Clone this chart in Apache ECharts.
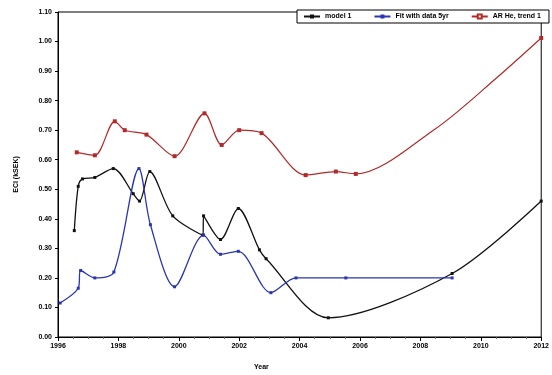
<!DOCTYPE html>
<html>
<head>
<meta charset="utf-8">
<script src="https://cdn.jsdelivr.net/npm/echarts@6/dist/echarts.min.js"></script>
<style>
  html, body { margin: 0; padding: 0; background: #fff; }
  #chart { width: 552px; height: 375px; }
</style>
</head>
<body>
<div id="chart"></div>
<script>
// [year, value] pairs
var seriesNames = ['model 1', 'Fit with data 5yr', 'AR He, trend 1']
var blackData = [
  [1996.54, 0.36], [1996.67, 0.51], [1996.81, 0.535], [1997.22, 0.54],
  [1997.83, 0.57], [1998.49, 0.485], [1998.7, 0.46], [1999.04, 0.56],
  [1999.8, 0.41], [2000.8, 0.345], [2000.82, 0.41], [2001.38, 0.33],
  [2001.97, 0.435], [2002.67, 0.295], [2002.89, 0.265], [2004.95, 0.065],
  [2009.05, 0.215], [2012, 0.46],
]
var blueData = [
  [1996.07, 0.115], [1996.67, 0.165], [1996.75, 0.225], [1997.22, 0.2],
  [1997.85, 0.22], [1998.68, 0.57], [1999.06, 0.38], [1999.86, 0.17],
  [2000.82, 0.345], [2001.38, 0.28], [2001.97, 0.29], [2003.05, 0.15],
  [2003.88, 0.2], [2005.53, 0.2], [2009.05, 0.2],
]
var redData = [
  [1996.62, 0.625], [1997.22, 0.615], [1997.88, 0.73], [1998.21, 0.7],
  [1998.93, 0.685], [1999.86, 0.612], [2000.85, 0.757], [2001.42, 0.65],
  [2002.0, 0.7], [2002.74, 0.69], [2004.2, 0.548], [2005.2, 0.56],
  [2005.86, 0.552], [2008.5, 0.705], [2010.5, 0.875], [2012, 1.012],
]
// points on the red curve that carry no marker in the picture
var redUnmarked = [2008.5, 2010.5]
var yearTicks = [1996, 2012, 2]
var valueTicks = [0, 1.1, 0.1]

var chart = echarts.init(document.getElementById('chart'))

var font = 'Liberation Sans, Arial, sans-serif'

chart.setOption({
  animation: false,
  textStyle: { fontFamily: font },
  grid: {
    left: 58,
    right: 9,
    top: 12,
    bottom: 38,
    show: true,
    borderColor: '#000',
    borderWidth: 1,
  },
  legend: {
    data: seriesNames,
    left: 297,
    top: 10,
    width: 252,
    backgroundColor: '#fff',
    borderColor: '#000',
    borderWidth: 1,
    padding: [3, 8, 3, 6],
    itemWidth: 16,
    itemHeight: 5,
    itemGap: 22,
    textStyle: { fontSize: 7, color: '#000', fontWeight: 'bold' },
  },
  xAxis: {
    type: 'value',
    min: yearTicks[0],
    max: yearTicks[1],
    interval: yearTicks[2],
    axisLine: { lineStyle: { color: '#000', width: 1 } },
    axisTick: { show: true, length: 4, lineStyle: { color: '#000' } },
    minorTick: { show: true, splitNumber: 4, length: 2, lineStyle: { color: '#666' } },
    splitLine: { show: false },
    axisLabel: {
      fontSize: 7,
      fontWeight: 'bold',
      color: '#000',
      margin: 6,
      formatter: function (v) { return String(v) },
    },
  },
  yAxis: {
    type: 'value',
    min: valueTicks[0],
    max: valueTicks[1],
    interval: valueTicks[2],
    name: 'ECI (kSEK)',
    nameLocation: 'middle',
    nameGap: 38,
    nameTextStyle: { fontSize: 7, fontWeight: 'bold', color: '#000' },
    axisLine: { show: true, lineStyle: { color: '#000', width: 1 } },
    axisTick: { show: true, length: 3, lineStyle: { color: '#000' } },
    splitLine: { show: false },
    axisLabel: {
      fontSize: 7,
      fontWeight: 'bold',
      color: '#000',
      margin: 6,
      formatter: function (v) { return v.toFixed(2) },
    },
  },
  graphic: [
    {
      type: 'text',
      left: 254,
      top: 364,
      style: { text: 'Year', fontSize: 7, fontWeight: 'bold', fill: '#000', fontFamily: font },
    },
  ],
  series: [
    {
      name: seriesNames[0],
      type: 'line',
      data: blackData,
      smooth: 0.3,
      symbol: 'rect',
      symbolSize: 3,
      lineStyle: { color: '#111', width: 1.3 },
      itemStyle: { color: '#111' },
    },
    {
      name: seriesNames[1],
      type: 'line',
      data: blueData,
      smooth: 0.3,
      symbol: 'rect',
      symbolSize: 3,
      lineStyle: { color: '#2a35b0', width: 1.3 },
      itemStyle: { color: '#2a35b0' },
    },
    {
      name: seriesNames[2],
      type: 'line',
      data: redData.map(function (p) {
        return redUnmarked.indexOf(p[0]) >= 0 ? { value: p, symbol: 'none' } : p
      }),
      smooth: 0.3,
      symbol: 'emptyRect',
      symbolSize: 2,
      lineStyle: { color: '#b02a2a', width: 1.2 },
      itemStyle: { color: '#b02a2a', borderWidth: 0.8 },
    },
  ],
})
</script>
</body>
</html>
